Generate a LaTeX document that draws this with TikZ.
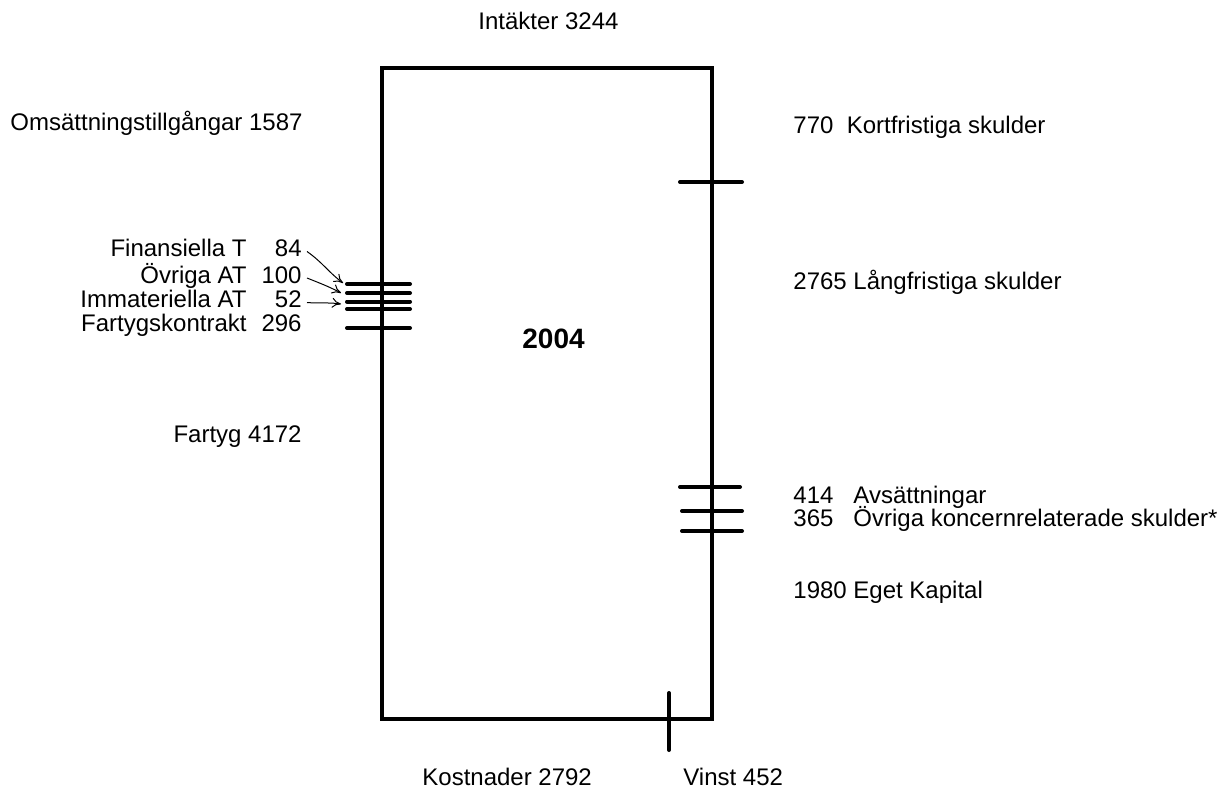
\documentclass[tikz,border=0pt]{standalone}
\usepackage{fontspec}
\setmainfont{Liberation Sans}
\usetikzlibrary{arrows.meta}
\begin{document}
\begin{tikzpicture}[x=0.5pt,y=-0.5pt,
  lbl/.style={inner sep=0pt, font=\fontsize{12}{14}\selectfont},
  yearlbl/.style={inner sep=0pt, font=\fontsize{14}{16}\selectfont\bfseries},
  frame/.style={line width=2pt, line join=miter},
  tickline/.style={line width=2pt, line cap=round},
  ptr/.style={line width=0.5pt, -{To[length=4.5pt,width=5pt]}}]
\useasboundingbox (0,0) rectangle (1220,787);
% frame
\coordinate (tl) at (382,68);
\coordinate (br) at (712,719);
\draw[frame] (tl) rectangle (br);
% right ticks
\coordinate (r1a) at (680,182); \coordinate (r1b) at (742,182);
\coordinate (r2a) at (680,487); \coordinate (r2b) at (740,487);
\coordinate (r3a) at (682,511); \coordinate (r3b) at (742,511);
\coordinate (r4a) at (682,531); \coordinate (r4b) at (742,531);
\foreach \i in {1,...,4} {\draw[tickline] (r\i a) -- (r\i b);}
% left ticks
\coordinate (l1a) at (347,284); \coordinate (l1b) at (410,284);
\coordinate (l2a) at (347,293); \coordinate (l2b) at (410,293);
\coordinate (l3a) at (347,301.5); \coordinate (l3b) at (410,301.5);
\coordinate (l4a) at (347,309); \coordinate (l4b) at (410,309);
\coordinate (l5a) at (347,328); \coordinate (l5b) at (410,328);
\foreach \i in {1,...,5} {\draw[tickline] (l\i a) -- (l\i b);}
% bottom tick
\coordinate (b1a) at (669,693); \coordinate (b1b) at (669,750);
\draw[tickline] (b1a) -- (b1b);
% texts
\node[lbl, anchor=base west] (intakt) at (478,29) {Intäkter 3244};
\node[lbl, anchor=base west] (oms) at (10,130) {Omsättningstillgångar 1587};
\node[lbl, anchor=base west] (kort) at (793,133) {770\ \ Kortfristiga skulder};
\node[lbl, anchor=base west] (lang) at (793,289) {2765 Långfristiga skulder};
\node[yearlbl, anchor=base west] (year) at (522,348) {2004};
\node[lbl, anchor=base east] (fartyg) at (302,442) {Fartyg 4172};
\node[lbl, anchor=base west] (avs) at (793,503.5) {414\ \ \ Avsättningar};
\node[lbl, anchor=base west] (ovk) at (793,526) {365\ \ \ Övriga koncernrelaterade skulder*};
\node[lbl, anchor=base west] (eget) at (793,598) {1980 Eget Kapital};
\node[lbl, anchor=base west] (kost) at (422,785) {Kostnader 2792};
\node[lbl, anchor=base west] (vinst) at (683,785) {Vinst 452};
% left list
\node[lbl, anchor=base east] (finN) at (247,256.5) {Finansiella T};
\node[lbl, anchor=base east] (fin) at (302,256.5) {84};
\node[lbl, anchor=base east] (ovrN) at (247,283) {Övriga AT};
\node[lbl, anchor=base east] (ovr) at (302,283) {100};
\node[lbl, anchor=base east] (immN) at (247,307.5) {Immateriella AT};
\node[lbl, anchor=base east] (imm) at (302,307.5) {52};
\node[lbl, anchor=base east] (ftkN) at (247,331.5) {Fartygskontrakt};
\node[lbl, anchor=base east] (ftk) at (302,331.5) {296};
% pointer arrows
\coordinate (p1) at (343,283);
\coordinate (p2) at (341,293);
\coordinate (p3) at (341,304);
\draw[ptr] ([xshift=2.5pt,yshift=2.5pt]fin.base east) to[out=-35,in=143] (p1);
\draw[ptr] ([xshift=2.5pt,yshift=2.5pt]ovr.base east) to[out=-22,in=152] (p2);
\draw[ptr] ([xshift=2.5pt,yshift=2.5pt]imm.base east) to[out=-5,in=172] (p3);
\end{tikzpicture}
\end{document}
